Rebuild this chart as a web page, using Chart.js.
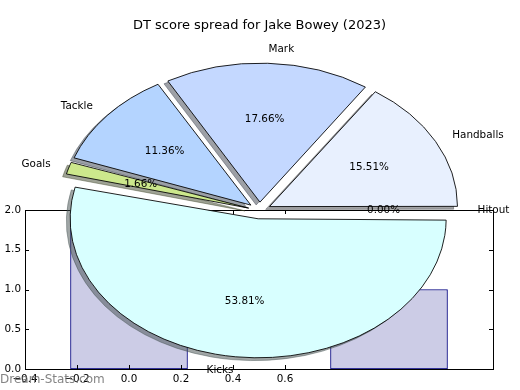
<!DOCTYPE html>
<html><head><meta charset="utf-8">
<script src="https://cdn.jsdelivr.net/npm/chart.js@4.4.1/dist/chart.umd.min.js"></script>
<style>
html,body{margin:0;padding:0;background:#fff;}
#wrap{position:relative;width:520px;height:390px;overflow:hidden;background:#fff;}
#wrap canvas{position:absolute;left:0;top:0;}
</style></head><body>
<div id="wrap">
<canvas id="bars" width="520" height="390"></canvas>
<canvas id="shadow" width="520" height="390"></canvas>
<canvas id="pie" width="520" height="390"></canvas>
</div>
<script>
// ---- data ----
const chartTitle = 'DT score spread for Jake Bowey (2023)';
const watermark = 'Dream-Stats.com';
const categories = ['Handballs', 'Mark', 'Tackle', 'Goals', 'Kicks', 'Hitout'];
const shares = [15.51, 17.66, 11.36, 1.66, 53.81, 0.00];
const sliceColors = ['#e8f0fe', '#c4d8ff', '#b4d4ff', '#cce88c', '#d8ffff', '#f0f0f0'];
const barX = [0, 1];
const barHeights = [2, 1];
const xTickValues = [-0.4, -0.2, 0, 0.2, 0.4, 0.6];
const xTickLabels = ['\u22120.4', '\u22120.2', '0.0', '0.2', '0.4', '0.6'];
const yTickValues = [0, 0.5, 1, 1.5, 2];
const yTickLabels = ['0.0', '0.5', '1.0', '1.5', '2.0'];

// ---- styles ----
Chart.defaults.font.family = '"DejaVu Sans", sans-serif';
const R = 188;            // horizontal pie radius (px)
const K = 139 / 188;      // vertical squash of the pie
const EXPLODE = 11.3;     // explode distance (px)
const SHADOW_DX = -3.8, SHADOW_DY = 2.8;
const BAR_PX = 117;       // bar width in pixels (0.45 x-units)

function shadowOf(hex) {
  const n = parseInt(hex.slice(1), 16);
  const r = (n >> 16) & 255, g = (n >> 8) & 255, b = n & 255;
  return `rgba(${Math.round(r * 0.3)},${Math.round(g * 0.3)},${Math.round(b * 0.3)},0.5)`;
}

// ---- bar chart (background axes) ----
const frameTicks = {
  id: 'frameTicks',
  afterDraw(chart) {
    const {ctx, chartArea: a, scales: {x, y}} = chart;
    ctx.save();
    ctx.strokeStyle = '#000';
    ctx.lineWidth = 1;
    ctx.beginPath();
    x.ticks.forEach(t => {
      const p = Math.round(x.getPixelForValue(t.value)) + 0.5;
      ctx.moveTo(p, a.bottom); ctx.lineTo(p, a.bottom - 4);
      ctx.moveTo(p, a.top); ctx.lineTo(p, a.top + 4);
    });
    y.ticks.forEach(t => {
      const p = Math.round(y.getPixelForValue(t.value)) + 0.5;
      ctx.moveTo(a.left, p); ctx.lineTo(a.left + 4, p);
      ctx.moveTo(a.right, p); ctx.lineTo(a.right - 4, p);
    });
    ctx.stroke();
    ctx.strokeRect(a.left + 0.5, a.top + 0.5, a.right - a.left, a.bottom - a.top);
    ctx.restore();
  }
};

new Chart(document.getElementById('bars'), {
  type: 'bar',
  data: {
    datasets: [{
      data: barX.map((v, i) => ({x: v, y: barHeights[i]})),
      backgroundColor: '#ccccE6',
      borderColor: '#000080',
      borderWidth: 1,
      borderSkipped: false,
      barThickness: BAR_PX
    }]
  },
  options: {
    responsive: false, animation: false, devicePixelRatio: 1, events: [],
    layout: {padding: {left: 0, top: 210, right: 27, bottom: 0}, autoPadding: false},
    plugins: {legend: {display: false}, tooltip: {enabled: false}, title: {display: false}},
    scales: {
      x: {
        type: 'linear', min: -0.4, max: 1.4, offset: false,
        grid: {display: false, drawTicks: false}, border: {display: false},
        afterBuildTicks(s) { s.ticks = xTickValues.map(v => ({value: v})); },
        ticks: {autoSkip: false, maxRotation: 0, padding: 4, color: '#000', font: {size: 10.4},
                callback: (v, i) => xTickLabels[i]},
        afterFit(s) { s.height = 21; }
      },
      y: {
        type: 'linear', min: 0, max: 2,
        grid: {display: false, drawTicks: false}, border: {display: false},
        afterBuildTicks(s) { s.ticks = yTickValues.map(v => ({value: v})); },
        ticks: {autoSkip: false, padding: 4, color: '#000', font: {size: 10.4},
                callback: (v, i) => yTickLabels[i]},
        afterFit(s) { s.width = 25; }
      }
    }
  },
  plugins: [frameTicks]
});

// ---- pie charts (shadow + main) ----
function ellipsePlugin(dx, dy) {
  return {
    id: 'ellipse',
    afterDatasetsUpdate(chart) {
      chart.getDatasetMeta(0).data.forEach(el => {
        const fix = 1 - Math.sin(Math.min(Math.PI, el.circumference || 0));
        el.outerRadius = R - EXPLODE * fix;
      });
    },
    beforeDatasetsDraw(chart) {
      const el = chart.getDatasetMeta(0).data[0];
      const ctx = chart.ctx;
      ctx.save();
      ctx.translate(el.x + dx, el.y + dy);
      ctx.scale(1, -K);
      ctx.translate(-el.x, -el.y);
    },
    afterDatasetsDraw(chart) { chart.ctx.restore(); }
  };
}

const labelsPlugin = {
  id: 'pieLabels',
  afterDraw(chart) {
    const ctx = chart.ctx;
    const arcs = chart.getDatasetMeta(0).data;
    const total = shares.reduce((a, b) => a + b, 0);
    ctx.save();
    ctx.fillStyle = '#000';
    ctx.font = '10.4px "DejaVu Sans"';
    ctx.textBaseline = 'middle';
    arcs.forEach((el, i) => {
      const th = (el.startAngle + el.endAngle) / 2;
      const c = Math.cos(th), s = Math.sin(th);
      const at = r => [el.x + EXPLODE * c + r * c, el.y - K * (EXPLODE * s + r * s)];
      const [lx, ly] = at(1.1 * R);
      ctx.textAlign = c > 0 ? 'left' : 'right';
      ctx.fillText(categories[i], lx, ly);
      const [px, py] = at(0.6 * R);
      ctx.textAlign = 'center';
      ctx.fillText((shares[i] / total * 100).toFixed(2) + '%', px, py);
    });
    ctx.font = '12px "DejaVu Sans"';
    ctx.fillStyle = 'rgba(110,110,110,0.85)';
    ctx.textAlign = 'left';
    ctx.fillText(watermark, 0, 380);
    ctx.restore();
  }
};

function pieConfig(isShadow) {
  return {
    type: 'pie',
    data: {
      labels: categories,
      datasets: [{
        data: shares,
        backgroundColor: isShadow ? sliceColors.map(shadowOf) : sliceColors,
        borderColor: isShadow ? sliceColors.map(shadowOf) : '#000',
        borderWidth: 1,
        offset: EXPLODE * 4,
        hoverOffset: 0,
        clip: false
      }]
    },
    options: {
      responsive: false, animation: false, devicePixelRatio: 1, events: [],
      rotation: 90,
      radius: R,
      layout: {padding: {left: 0, top: 0, right: 1, bottom: 2.3}, autoPadding: false},
      plugins: {
        legend: {display: false},
        tooltip: {enabled: false},
        title: {
          display: true, text: chartTitle,
          color: isShadow ? 'rgba(0,0,0,0)' : '#000',
          font: {size: 13, weight: 'normal', lineHeight: 1.2},
          padding: {top: 17.7, bottom: 0}
        }
      }
    },
    plugins: isShadow ? [ellipsePlugin(SHADOW_DX, SHADOW_DY)] : [ellipsePlugin(0, 0), labelsPlugin]
  };
}

new Chart(document.getElementById('shadow'), pieConfig(true));
new Chart(document.getElementById('pie'), pieConfig(false));
</script>
</body></html>
